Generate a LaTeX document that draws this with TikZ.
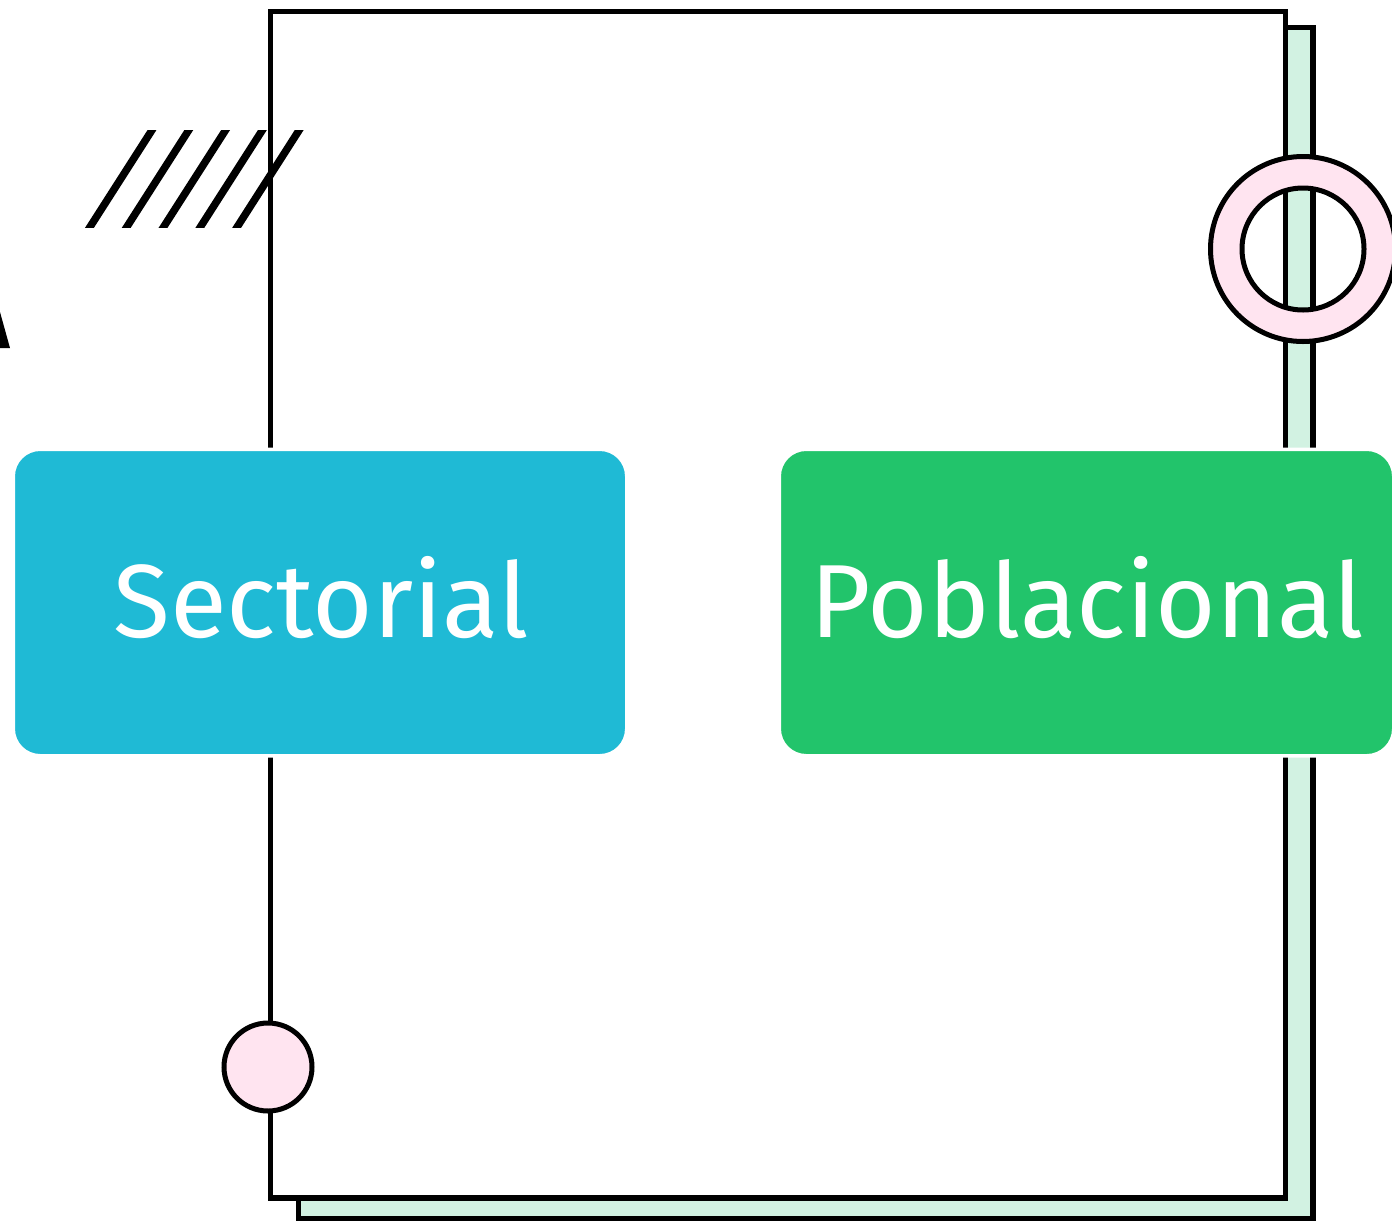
\documentclass[tikz,border=0pt]{standalone}
\usepackage{fontspec}
\setmainfont{Fira Sans}
\definecolor{cyanbox}{HTML}{1FBAD5}
\definecolor{greenbox}{HTML}{22C46B}
\definecolor{mintc}{HTML}{D2F2E2}
\definecolor{pinkc}{HTML}{FFE4F0}
\tikzset{
  frame/.style={draw=black, line width=5.5pt},
  hatchline/.style={draw=black, line width=7.5pt},
  catbox/.style={draw=white, line width=3.5pt, rounded corners=27pt, minimum width=613.5pt, minimum height=306.5pt, inner sep=0pt},
  lbl/.style={text=white, font=\fontsize{104}{120}\selectfont, inner sep=0pt, anchor=base},
}
\begin{document}
\begin{tikzpicture}[x=1pt,y=-1pt]
\useasboundingbox (0,0) rectangle (1392,1221);
% back sheet
\draw[frame, fill=mintc] (298.5,27.5) rectangle (1313,1218.5);
% front sheet
\draw[frame, fill=white] (270.5,11.7) rectangle (1285.5,1198);
% hatch
\begin{scope}
\clip (0,130) rectangle (400,227);
\foreach \i in {0,...,4}{
  \draw[hatchline] ({90+36.8*\i-10},{227+15.6}) -- ({152+36.8*\i+10},{130-15.6});
}
\end{scope}
% small circle
\node[circle, draw=black, line width=5pt, fill=pinkc, minimum size=88pt, inner sep=0pt] (dot) at (268,1067) {};
% ring
\path[draw=black, line width=5pt, fill=pinkc, even odd rule] (1303,249) circle (92.5) (1303,249) circle (61);
% boxes
\node[catbox, fill=cyanbox] (sect) at (320,602.5) {};
\node[catbox, fill=greenbox, minimum width=614.5pt] (pobl) at (1086.5,602.5) {};
\node[lbl] (sectt) at (321,637) {Sectorial};
\node[lbl] (poblt) at (1087,637) {Poblacional};
% corner sliver
\fill[black] (0,312) -- (10,348) -- (0,348) -- cycle;
\end{tikzpicture}
\end{document}
